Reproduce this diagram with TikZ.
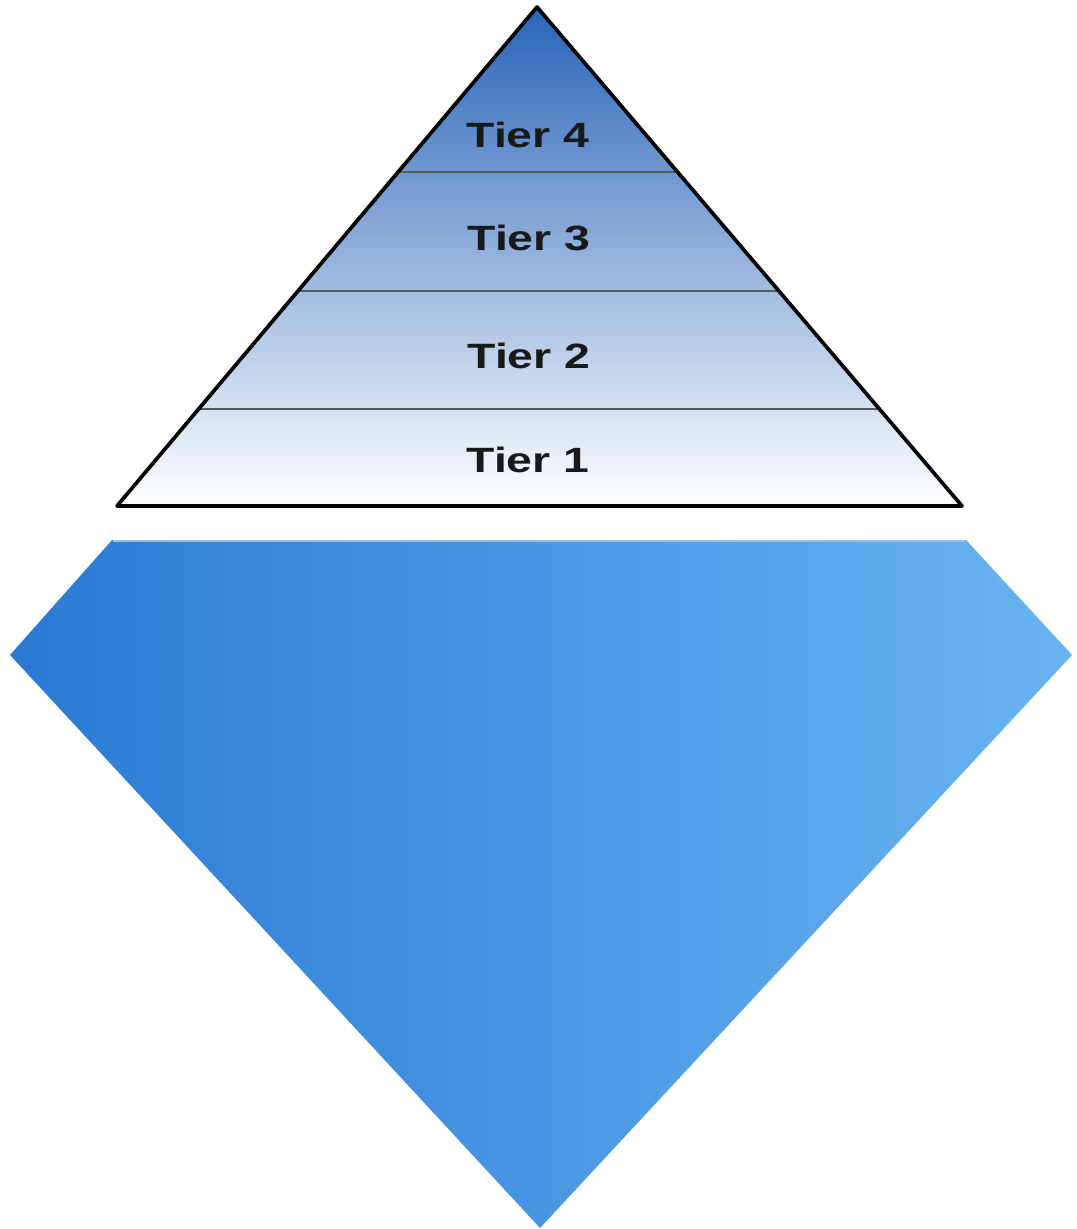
\documentclass[tikz,border=0pt]{standalone}
\usepackage{fontspec}
\setmainfont{Liberation Sans}
\usetikzlibrary{calc}

\begin{document}
\begin{tikzpicture}[
		x=0.02cm, y=-0.02cm,
		tierlabel/.style={font=\fontsize{20}{22}\selectfont\bfseries, xscale=1.32, text=black!90},
		tierline/.style={draw=black!65, line width=0.7pt},
		outline/.style={draw=black, line width=2.1pt, line join=round},
		base/.style={left color={rgb,255:red,42;green,122;blue,212}, right color={rgb,255:red,104;green,180;blue,242}}
	]
	\useasboundingbox (0,0) rectangle (1076,1229);

	% Corners of the pyramid
	\coordinate (apex) at (537,7);
	\coordinate (bl) at (117,506);
	\coordinate (br) at (962,506);

	% Lower block
	\path [base] (112,540) -- (966,540) -- (1072,655) -- (540,1228) -- (10,655) -- cycle;
	\draw [draw={rgb,255:red,140;green,195;blue,240}, line width=1.2pt] (113,541) -- (965,541);

	% Pyramid body
	\path [top color={rgb,255:red,40;green,100;blue,185}, middle color={rgb,255:red,192;green,204;blue,232}, bottom color=white]
		(apex) -- (br) -- (bl) -- cycle;

	% Tier borders
	\foreach \t in {0.3307, 0.5691, 0.8056}
		\draw [tierline] ($(apex)!\t!(bl)$) -- ($(apex)!\t!(br)$);

	\draw [outline] (apex) -- (br) -- (bl) -- cycle;

	% Labels
	\node [tierlabel] (tier4) at (528,135) {Tier 4};
	\node [tierlabel] (tier3) at (529,238) {Tier 3};
	\node [tierlabel] (tier2) at (529,356) {Tier 2};
	\node [tierlabel] (tier1) at (528,460) {Tier 1};

\end{tikzpicture}
\end{document}
